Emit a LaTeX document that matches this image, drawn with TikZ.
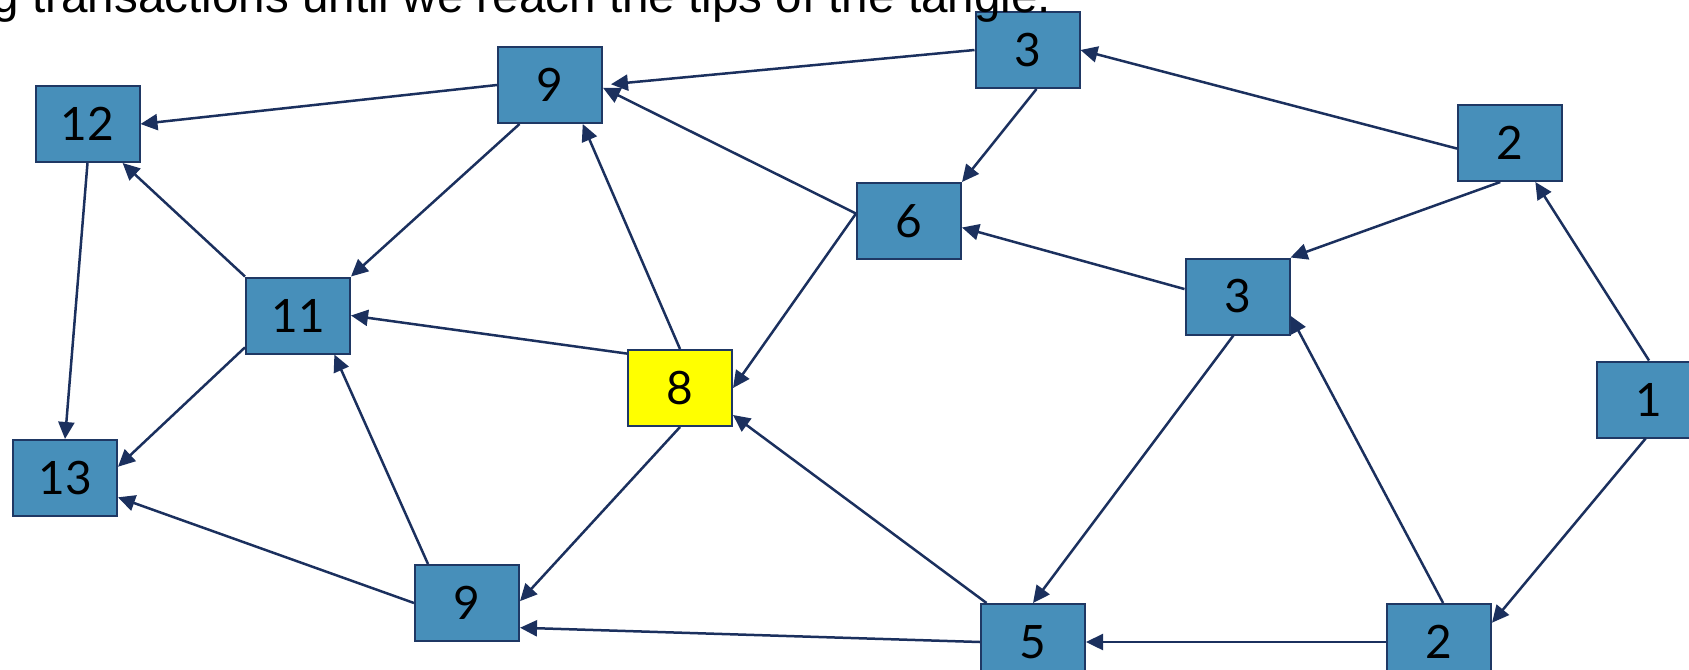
\documentclass[tikz,border=0pt]{standalone}
\usepackage{fontspec}
\setmainfont{Liberation Sans}
\newfontfamily\digitfont{Lato}
\usetikzlibrary{arrows.meta}
\definecolor{boxblue}{RGB}{71,143,186}
\definecolor{boxedge}{RGB}{31,56,100}
\definecolor{linkcol}{RGB}{27,48,94}
\definecolor{tipyellow}{RGB}{255,255,0}
\begin{document}
\begin{tikzpicture}[x=0.5pt,y=-0.5pt,
  tx/.style={draw=boxedge, line width=1pt, fill=boxblue, minimum width=52pt, minimum height=38pt, inner sep=0pt, font=\digitfont\fontsize{23}{23}\selectfont},
  tipbox/.style={tx, fill=tipyellow},
  link/.style={draw=linkcol, line width=1.25pt, -{Triangle[length=8.5pt,width=8pt]}}]
\useasboundingbox (0,0) rectangle (1689,669);
\clip (0,0) rectangle (1689,669);
% nodes
\node[tx] (t3) at (1027.5,50) {3};
\node[tx] (t9) at (550,85) {9};
\node[tx] (n12) at (87.5,124) {12};
\node[tx] (r2) at (1510,143) {2};
\node[tx] (n6) at (909,221) {6};
\node[tx] (m3) at (1237.5,296.5) {3};
\node[tx] (n11) at (298,315.5) {11};
\node[tipbox] (n8) at (680,388) {8};
\node[tx] (n1) at (1649,399.5) {1};
\node[tx] (n13) at (65,478) {13};
\node[tx] (b9) at (467,603) {9};
\node[tx] (n5) at (1033,642) {5};
\node[tx] (b2) at (1439,642) {2};
% connectors
\draw[link, shorten >=4pt] (t3.west) -- (t9.east);
\draw[link] (t9.west) -- (n12.east);
\draw[link] (t3.-77) -- (n6.north east);
\draw[link] (r2.-174) -- (t3.east);
\draw[link] (n6.172) -- (t9.-3);
\draw[link] (n6.172) -- (n8.east);
\draw[link] (m3.172) -- (n6.-7.5);
\draw[link] (r2.-104) -- (m3.north east);
\draw[link] (n1.north) -- (r2.-57);
\draw[link] (n1.-95) -- (b2.20);
\draw[link] (b2.84) -- (m3.-20);
\draw[link] (b2.west) -- (n5.east);
\draw[link] (m3.-96) -- (n5.north);
\draw[link] (n5.140) -- (n8.-27);
\draw[link] (n5.west) -- (b9.-25);
\draw[link] (n8.south) -- (b9.2);
\draw[link] (n8.north) -- (t9.-50);
\draw[link] (n8.147) -- (n11.east);
\draw[link] (t9.-128) -- (n11.north east);
\draw[link] (n11.north west) -- (n12.-48);
\draw[link] (n12.south) -- (n13.north);
\draw[link] (n11.211) -- (n13.12);
\draw[link] (b9.135) -- (n11.-47);
\draw[link] (b9.west) -- (n13.-20);
% caption
\node[anchor=base west, inner sep=0pt, font=\fontsize{23.8}{28}\selectfont] (caption) at (-7.7,12.7) {g transactions until we reach the tips of the tangle.};
\end{tikzpicture}
\end{document}
